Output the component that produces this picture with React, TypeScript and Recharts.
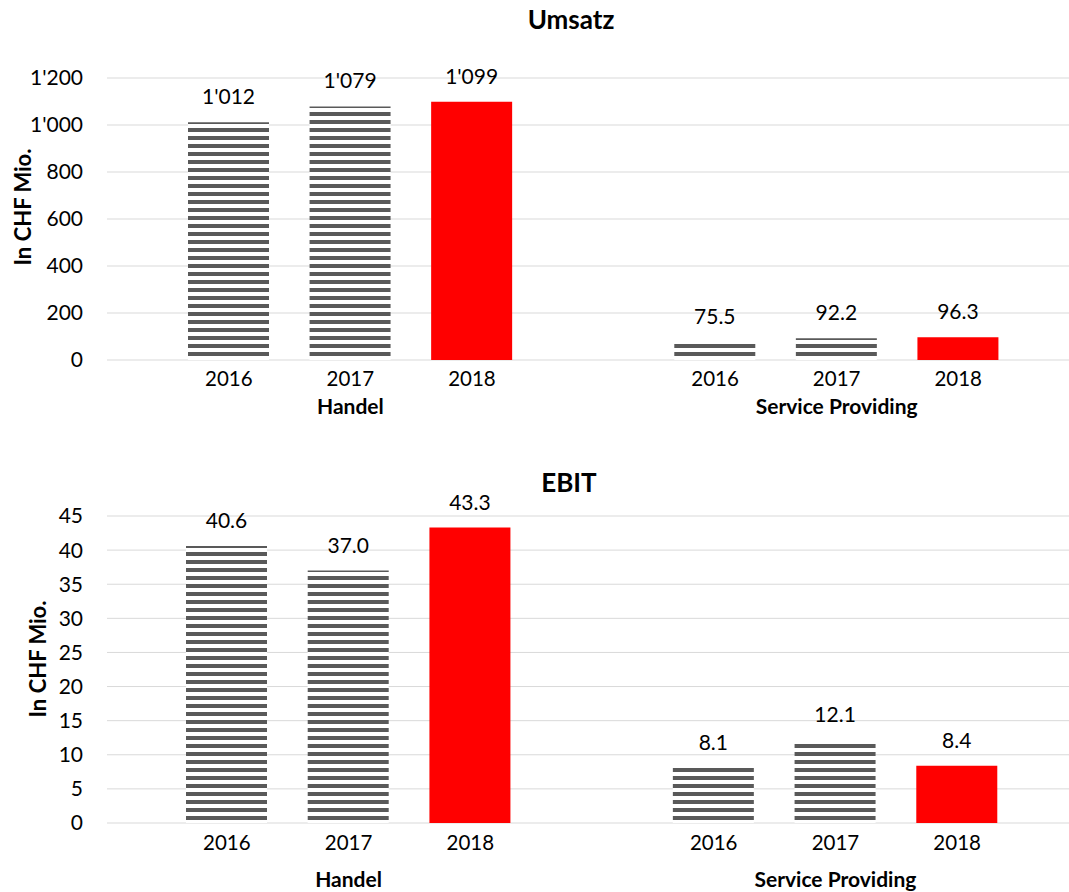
import React from "react";
import { BarChart, Bar, XAxis, YAxis, CartesianGrid, Cell, LabelList } from "recharts";

const years = ["2016", "2017", "2018"];
const segments = ["Handel", "Service Providing"];
const umsatzHandel = [1012, 1079, 1099];
const umsatzService = [75.5, 92.2, 96.3];
const ebitHandel = [40.6, 37.0, 43.3];
const ebitService = [8.1, 12.1, 8.4];
const umsatzTicks = [0, 200, 400, 600, 800, 1000, 1200];
const ebitTicks = [0, 5, 10, 15, 20, 25, 30, 35, 40, 45];
const highlightYear = "2018";

type Row = { key: string; year: string; group: string; value: number | null };

function buildRows(handel: number[], service: number[]): Row[] {
  const rows: Row[] = [];
  years.forEach((y, i) =>
    rows.push({ key: `H-${y}`, year: y, group: i === 1 ? segments[0] : "", value: handel[i] })
  );
  rows.push({ key: "gap", year: "", group: "", value: null });
  years.forEach((y, i) =>
    rows.push({ key: `S-${y}`, year: y, group: i === 1 ? segments[1] : "", value: service[i] })
  );
  return rows;
}

const umsatzRows = buildRows(umsatzHandel, umsatzService);
const ebitRows = buildRows(ebitHandel, ebitService);

const FONT = "Lato, 'Open Sans', sans-serif";
const GRID = "#d9d9d9";
const HATCH = "#595959";
const RED = "#ff0000";

const thousands = (v: number) =>
  Math.round(v).toString().replace(/\B(?=(\d{3})+(?!\d))/g, "'");

const fmtUmsatz = (v: any) => {
  if (v == null || v === "") return "";
  const n = Number(v);
  return n >= 1000 ? thousands(n) : n.toFixed(1);
};
const fmtEbit = (v: any) => {
  if (v == null || v === "") return "";
  return Number(v).toFixed(1);
};

function makeTick(rows: Row[], yearDy: number, groupDy: number) {
  return (props: any) => {
    const { x, y, payload } = props;
    const row = rows[payload.index];
    if (!row) return <g />;
    return (
      <g>
        <text x={x} y={y + yearDy} textAnchor="middle" fontFamily={FONT} fontSize={20.5} fill="#000">
          {row.year}
        </text>
        {row.group ? (
          <text
            x={x}
            y={y + groupDy}
            textAnchor="middle"
            fontFamily={FONT}
            fontSize={21}
            fontWeight="bold"
            fill="#000"
          >
            {row.group}
          </text>
        ) : null}
      </g>
    );
  };
}

function Hatch({ id }: { id: string }) {
  return (
    <defs>
      <pattern id={id} patternUnits="userSpaceOnUse" width="8" height="8">
        <rect x="0" y="0" width="8" height="8" fill="#ffffff" />
        <rect x="0" y="0" width="8" height="4" fill={HATCH} />
      </pattern>
    </defs>
  );
}

export default function App() {
  const labelStyle = { fontFamily: FONT, fontSize: 21, fill: "#000" };
  return (
    <div style={{ position: "absolute", top: 0, left: 0, width: 1069, height: 892, background: "#fff" }}>
      <div style={{ position: "absolute", top: 0, left: 0 }}>
        <BarChart
          width={1069}
          height={440}
          data={umsatzRows}
          margin={{ top: 78, right: 0, bottom: 20, left: 47 }}
        >
          <Hatch id="hatchTop" />
          <CartesianGrid vertical={false} stroke={GRID} strokeWidth={1} />
          <XAxis
            dataKey="key"
            axisLine={false}
            tickLine={false}
            tickSize={0}
            tickMargin={0}
            height={60}
            interval={0}
            padding={{ left: 61, right: 50 }}
            tick={makeTick(umsatzRows, 26, 54)}
          />
          <YAxis
            width={60}
            domain={[0, 1200]}
            ticks={umsatzTicks}
            axisLine={false}
            tickLine={false}
            tickSize={0}
            tickMargin={24}
            tickFormatter={(v: number) => thousands(v)}
            tick={{ fontFamily: FONT, fontSize: 21, fill: "#000" }}
          />
          <Bar dataKey="value" barSize={81} isAnimationActive={false}>
            {umsatzRows.map((r) => (
              <Cell key={r.key} fill={r.year === highlightYear ? RED : "url(#hatchTop)"} />
            ))}
            <LabelList dataKey="value" position="top" offset={18} formatter={fmtUmsatz} style={labelStyle} />
          </Bar>
        </BarChart>
      </div>
      <div style={{ position: "absolute", top: 440, left: 0 }}>
        <BarChart
          width={1069}
          height={452}
          data={ebitRows}
          margin={{ top: 76, right: 0, bottom: 0, left: 47 }}
        >
          <Hatch id="hatchBottom" />
          <CartesianGrid vertical={false} stroke={GRID} strokeWidth={1} />
          <XAxis
            dataKey="key"
            axisLine={false}
            tickLine={false}
            tickSize={0}
            tickMargin={0}
            height={69}
            interval={0}
            padding={{ left: 59, right: 51 }}
            tick={makeTick(ebitRows, 27, 64)}
          />
          <YAxis
            width={60}
            domain={[0, 45]}
            ticks={ebitTicks}
            axisLine={false}
            tickLine={false}
            tickSize={0}
            tickMargin={24}
            tick={{ fontFamily: FONT, fontSize: 21, fill: "#000" }}
          />
          <Bar dataKey="value" barSize={81} isAnimationActive={false}>
            {ebitRows.map((r) => (
              <Cell key={r.key} fill={r.year === highlightYear ? RED : "url(#hatchBottom)"} />
            ))}
            <LabelList dataKey="value" position="top" offset={18} formatter={fmtEbit} style={labelStyle} />
          </Bar>
        </BarChart>
      </div>
      <svg
        width={1069}
        height={892}
        style={{ position: "absolute", top: 0, left: 0, pointerEvents: "none" }}
      >
        <text x={571} y={29} textAnchor="middle" fontFamily={FONT} fontSize={26} fontWeight="bold" fill="#000">
          Umsatz
        </text>
        <text x={569} y={492} textAnchor="middle" fontFamily={FONT} fontSize={26} fontWeight="bold" fill="#000">
          EBIT
        </text>
        <text
          transform="translate(31,207) rotate(-90)"
          textAnchor="middle"
          fontFamily={FONT}
          fontSize={22}
          fontWeight="bold"
          fill="#000"
        >
          In CHF Mio.
        </text>
        <text
          transform="translate(46,659) rotate(-90)"
          textAnchor="middle"
          fontFamily={FONT}
          fontSize={22}
          fontWeight="bold"
          fill="#000"
        >
          In CHF Mio.
        </text>
      </svg>
    </div>
  );
}
